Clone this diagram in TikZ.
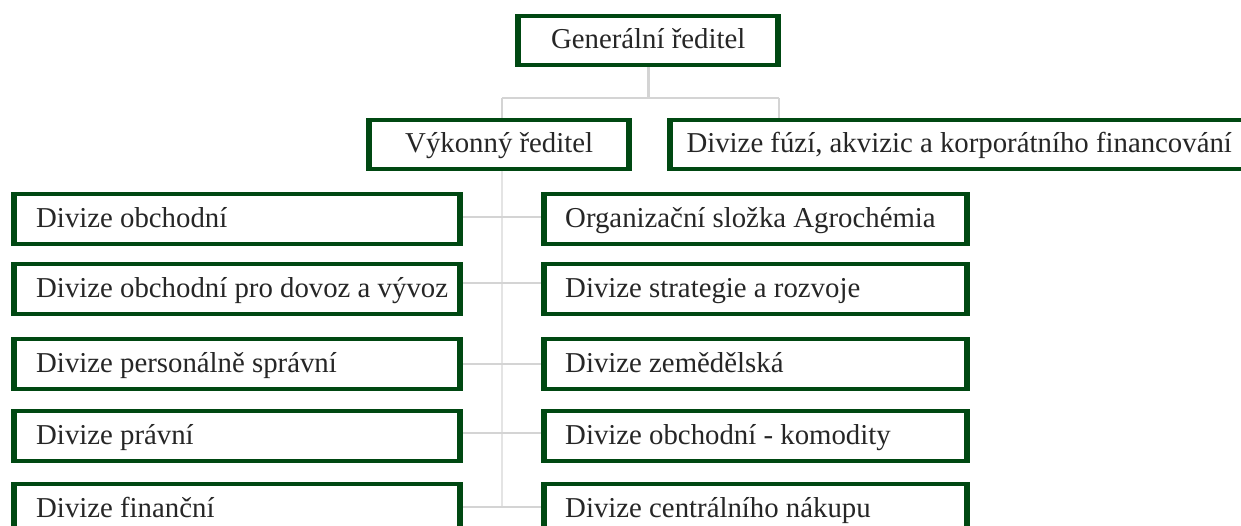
\documentclass[tikz,border=0pt]{standalone}
\usepackage{fontspec}
\setmainfont{Liberation Serif}
\definecolor{dkgreen}{RGB}{0,72,18}
\definecolor{txtc}{RGB}{38,38,38}
\definecolor{conng}{RGB}{212,212,212}
\definecolor{spineg}{RGB}{228,228,228}
\tikzset{
  orgbox/.style={shape=rectangle, fill=dkgreen, inner ysep=0pt, anchor=north west,
    minimum height=54pt, text=txtc, font=\fontsize{28.8}{34}\selectfont,
    text height=20pt, text depth=4pt,
    path picture={\fill[white] ([xshift=6pt,yshift=4pt]path picture bounding box.south west)
      rectangle ([xshift=-6pt,yshift=-4pt]path picture bounding box.north east);}},
  midbox/.style={orgbox, inner xsep=0pt, minimum width=#1, align=center},
  leftbox/.style={orgbox, inner xsep=0pt, text width=452pt, align=flush left,
    execute at begin node={\hspace*{25pt}}},
  rightbox/.style={orgbox, inner xsep=0pt, text width=429pt, align=flush left,
    execute at begin node={\hspace*{24pt}}},
  conn/.style={draw=conng, line width=2.8pt},
  spine/.style={draw=spineg, line width=2pt},
}
\begin{document}
\begin{tikzpicture}[x=1pt,y=-1pt]
\useasboundingbox (0,0) rectangle (1241,525);
\clip (0,0) rectangle (1241,525);
\fill[white] (0,0) rectangle (1241,525);

% top level
\node[midbox=266pt, minimum height=53pt] (gen) at (515,14) {Generální ředitel};
\node[midbox=266pt, minimum height=53pt] (vyk) at (366,118) {Výkonný ředitel};
\node[midbox=584pt, minimum height=53pt] (fuzi) at (667,118) {Divize fúzí, akvizic a korporátního financování};

% left column
\node[leftbox] (l1) at (11,192) {Divize obchodní};
\node[leftbox] (l2) at (11,262) {Divize obchodní pro dovoz a vývoz};
\node[leftbox] (l3) at (11,337) {Divize personálně správní};
\node[leftbox] (l4) at (11,409) {Divize právní};
\node[leftbox] (l5) at (11,482) {Divize finanční};

% right column
\node[rightbox] (r1) at (541,192) {Organizační složka Agrochémia};
\node[rightbox] (r2) at (541,262) {Divize strategie a rozvoje};
\node[rightbox] (r3) at (541,337) {Divize zemědělská};
\node[rightbox] (r4) at (541,409) {Divize obchodní - komodity};
\node[rightbox] (r5) at (541,482) {Divize centrálního nákupu};

% connectors from the top
\coordinate (bl) at (502,98);
\coordinate (br) at (779,98);
\draw[conn] (gen.south) -- (gen.south |- bl);
\draw[conn] (bl) -- (br);
\draw[conn] (bl) -- (bl |- vyk.north);
\draw[conn] (br) -- (br |- fuzi.north);

% spine and row connectors
\coordinate (y1) at (0,217);
\coordinate (y2) at (0,283);
\coordinate (y3) at (0,364);
\coordinate (y4) at (0,433);
\coordinate (y5) at (0,507);
\coordinate (sp) at (502,507);
\draw[spine] (sp |- vyk.south) -- (sp);
\draw[conn] (l1.east |- y1) -- (r1.west |- y1);
\draw[conn] (l2.east |- y2) -- (r2.west |- y2);
\draw[conn] (l3.east |- y3) -- (r3.west |- y3);
\draw[conn] (l4.east |- y4) -- (r4.west |- y4);
\draw[conn] (l5.east |- y5) -- (r5.west |- y5);
\end{tikzpicture}
\end{document}
